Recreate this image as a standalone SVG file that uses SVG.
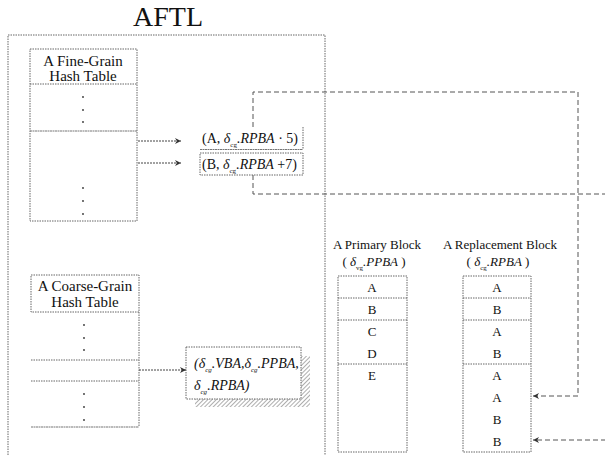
<svg xmlns="http://www.w3.org/2000/svg" width="605" height="455" viewBox="0 0 605 455" font-family="'Liberation Serif', serif">
<style>
.dot{fill:none;stroke:#666;stroke-width:1;stroke-dasharray:1.5,1}
.solid{fill:none;stroke:#777;stroke-width:1}
.dash{fill:none;stroke:#555;stroke-width:1;stroke-dasharray:5,3}
.arr{fill:none;stroke:#444;stroke-width:1;stroke-dasharray:2,1}
text{font-family:'Liberation Serif', serif;fill:#111}
.hd{font-size:15px;text-anchor:middle}
.bh{font-size:13px;text-anchor:middle}
.cell{font-size:13px;text-anchor:middle}
.ent{font-size:14px}
.it{font-style:italic}
.sub{font-size:7px}
.pt{fill:#333}
</style>
<defs>
<marker id="ah" viewBox="0 0 10 10" refX="10" refY="5" markerWidth="8" markerHeight="6" orient="auto" markerUnits="userSpaceOnUse">
<path d="M0,0 L10,5 L0,10 L3,5 Z" fill="#333"/>
</marker>
<pattern id="hatch" patternUnits="userSpaceOnUse" width="3" height="3" patternTransform="rotate(45)">
<line x1="0" y1="0" x2="0" y2="3" stroke="#777" stroke-width="1.2"/>
</pattern>
</defs>

<text x="168" y="26" font-size="28" text-anchor="middle">AFTL</text>

<g id="aftl-frame">
<path class="dot" d="M8,455 V35 H325 V455"/>
</g>

<g id="fine-table">
<rect class="dot" x="30" y="49" width="107" height="172"/>
<line class="dot" x1="30" y1="84" x2="137" y2="84"/>
<line class="solid" x1="30" y1="131" x2="137" y2="131" stroke-dasharray="2,0.5"/>
<text class="hd" x="83" y="66">A Fine-Grain</text>
<text class="hd" x="83" y="81">Hash Table</text>
<circle class="pt" cx="83" cy="97" r="0.9"/>
<circle class="pt" cx="83" cy="110" r="0.9"/>
<circle class="pt" cx="83" cy="122" r="0.9"/>
<circle class="pt" cx="83" cy="188" r="0.9"/>
<circle class="pt" cx="83" cy="201" r="0.9"/>
<circle class="pt" cx="83" cy="214" r="0.9"/>
</g>

<g id="fine-entry-a">
<path class="dot" d="M303,127 V149"/>
<line x1="200" y1="149.5" x2="303" y2="149.5" stroke="#777" stroke-width="1" stroke-dasharray="2,0.5"/>
<text class="ent" x="202" y="143">(A, <tspan class="it">δ</tspan><tspan class="sub" dy="4">cg</tspan><tspan dy="-4" class="it">.RPBA</tspan> · 5)</text>
</g>

<g id="fine-entry-b">
<rect class="dot" x="200" y="153" width="103" height="22"/>
<text class="ent" x="202" y="169">(B, <tspan class="it">δ</tspan><tspan class="sub" dy="4">cg</tspan><tspan dy="-4" class="it">.RPBA</tspan> +7)</text>
</g>

<g id="coarse-table">
<rect class="dot" x="31" y="275" width="108" height="37"/>
<path class="dot" d="M139,312 V427"/>
<line class="solid" x1="31" y1="427" x2="139" y2="427" stroke-dasharray="2,0.5"/>
<line class="dot" x1="31" y1="360" x2="139" y2="360"/>
<line class="dot" x1="31" y1="381" x2="139" y2="381"/>
<text class="hd" x="85" y="291">A Coarse-Grain</text>
<text class="hd" x="85" y="307">Hash Table</text>
<circle class="pt" cx="84" cy="325" r="0.9"/>
<circle class="pt" cx="84" cy="338" r="0.9"/>
<circle class="pt" cx="84" cy="350" r="0.9"/>
<circle class="pt" cx="84" cy="394" r="0.9"/>
<circle class="pt" cx="84" cy="407" r="0.9"/>
<circle class="pt" cx="84" cy="420" r="0.9"/>
</g>

<g id="coarse-entry">
<rect x="301" y="356" width="9" height="51" fill="url(#hatch)"/>
<rect x="195" y="399" width="106" height="8" fill="url(#hatch)"/>
<rect class="dot" x="186" y="347" width="115" height="52" fill="#fff"/>
<text class="ent it" x="194" y="368">(δ<tspan class="sub" dy="4">cg</tspan><tspan dy="-4">.VBA,δ</tspan><tspan class="sub" dy="4">cg</tspan><tspan dy="-4">.PPBA,</tspan></text>
<text class="ent it" x="194" y="390">δ<tspan class="sub" dy="4">cg</tspan><tspan dy="-4">.RPBA)</tspan></text>
</g>

<g id="primary-block">
<text class="bh" x="377" y="249">A Primary Block</text>
<text class="bh" x="374" y="266">( <tspan class="it">δ</tspan><tspan class="sub" dy="4">vg</tspan><tspan dy="-4" class="it">.PPBA</tspan> )</text>
<rect class="dot" x="338" y="276" width="69" height="176"/>
<line class="dot" x1="338" y1="298" x2="407" y2="298"/>
<line class="dot" x1="338" y1="320" x2="407" y2="320"/>
<line class="dot" x1="338" y1="364" x2="407" y2="364"/>
<text class="cell" x="372" y="292">A</text>
<text class="cell" x="372" y="314">B</text>
<text class="cell" x="372" y="336">C</text>
<text class="cell" x="372" y="358">D</text>
<text class="cell" x="372" y="380">E</text>
</g>

<g id="replacement-block">
<text class="bh" x="500" y="249">A Replacement Block</text>
<text class="bh" x="498" y="266">( <tspan class="it">δ</tspan><tspan class="sub" dy="4">cg</tspan><tspan dy="-4" class="it">.RPBA</tspan> )</text>
<rect class="dot" x="463" y="276" width="68" height="176"/>
<line class="dot" x1="463" y1="298" x2="531" y2="298"/>
<line class="dot" x1="463" y1="320" x2="531" y2="320"/>
<line class="dot" x1="463" y1="364" x2="531" y2="364"/>
<text class="cell" x="497" y="292">A</text>
<text class="cell" x="497" y="314">B</text>
<text class="cell" x="497" y="336">A</text>
<text class="cell" x="497" y="358">B</text>
<text class="cell" x="497" y="380">A</text>
<text class="cell" x="497" y="402">A</text>
<text class="cell" x="497" y="424">B</text>
<text class="cell" x="497" y="446">B</text>
</g>

<g id="connectors">
<line class="arr" x1="138" y1="141" x2="181" y2="141" marker-end="url(#ah)"/>
<line class="arr" x1="138" y1="163" x2="181" y2="163" marker-end="url(#ah)"/>
<line class="arr" x1="139" y1="370" x2="186" y2="370" marker-end="url(#ah)"/>
<path class="dash" d="M253,127 V92 H578 V396 H533" marker-end="url(#ah)"/>
<path class="dash" d="M253,175 V194 H625 V440 H533" marker-end="url(#ah)"/>
</g>
</svg>
